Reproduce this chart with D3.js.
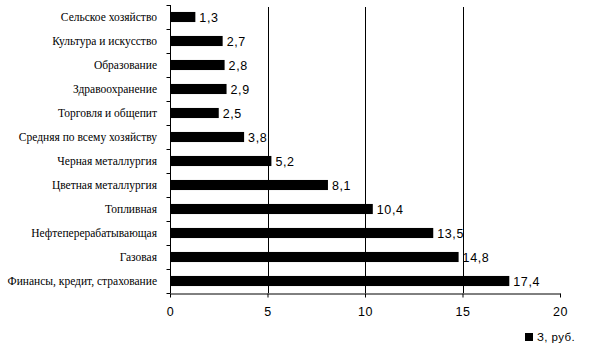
<!DOCTYPE html>
<html><head><meta charset="utf-8">
<script src="https://cdn.jsdelivr.net/npm/d3@7"></script>
<style>body{margin:0;background:#fff}</style>
</head><body>
<svg id="c" width="616" height="364"></svg>
<script>
const categories = ["Сельское хозяйство","Культура и искусство","Образование","Здравоохранение","Торговля и общепит","Средняя по всему хозяйству","Черная металлургия","Цветная металлургия","Топливная","Нефтеперерабатывающая","Газовая","Финансы, кредит, страхование"];
const values = [1.3,2.7,2.8,2.9,2.5,3.8,5.2,8.1,10.4,13.5,14.8,17.4];
const xTicks = [0,5,10,15,20];
const gridTicks = [5,10,15];
const seriesName = "З, руб.";

const svg = d3.select("#c");
const m = {left:170, right:56, top:5, bottom:71};
const W = 616, H = 364;
const x = d3.scaleLinear().domain([0,20]).range([m.left, W-m.right]);
const y = d3.scaleBand().domain(categories).range([m.top, H-m.bottom]).paddingInner(0.58).paddingOuter(0.29);
const fmt = v => String(v).replace(".", ",");

// gridlines
svg.append("g").selectAll("line").data(gridTicks).join("line")
  .attr("x1", d=>Math.round(x(d))+0.5).attr("x2", d=>Math.round(x(d))+0.5)
  .attr("y1", m.top+2).attr("y2", H-m.bottom)
  .attr("stroke","#000").attr("stroke-width",1);

// bars
svg.append("g").selectAll("rect").data(values).join("rect")
  .attr("x", x(0)).attr("y", (d,i)=>y(categories[i]))
  .attr("width", d=>x(d)-x(0)).attr("height", y.bandwidth())
  .attr("fill","#000");

// value labels
svg.append("g").selectAll("text").data(values).join("text")
  .attr("x", d=>x(d)+4).attr("y", (d,i)=>y(categories[i])+y.bandwidth()/2)
  .attr("dy","0.36em")
  .attr("font-family","Liberation Sans, Arial, sans-serif").attr("font-size",12.5)
  .attr("letter-spacing","0.6px")
  .text(d=>fmt(d));

// x axis
const xa = svg.append("g").attr("transform",`translate(0,${H-m.bottom+0.5})`)
  .call(d3.axisBottom(x).tickValues(xTicks).tickSize(4).tickSizeOuter(0).tickPadding(10));
xa.select(".domain").attr("stroke","#000");
xa.selectAll("text").attr("font-family","Liberation Sans, Arial, sans-serif").attr("font-size",12.5).attr("letter-spacing","0.6px").attr("fill","#000");

// y axis with ticks at band boundaries
const ya = svg.append("g").attr("transform",`translate(${m.left+0.5},0)`);
ya.append("line").attr("x1",0).attr("x2",0).attr("y1",m.top).attr("y2",H-m.bottom).attr("stroke","#000");
const step = y.step();
const bounds = d3.range(categories.length+1).map(i => m.top + i*(H-m.bottom-m.top)/categories.length);
ya.selectAll("line.t").data(bounds).join("line").attr("class","t")
  .attr("x1",-4).attr("x2",0).attr("y1",d=>Math.round(d)+0.5).attr("y2",d=>Math.round(d)+0.5).attr("stroke","#000");

// category labels
svg.append("g").selectAll("text").data(categories).join("text")
  .attr("x", 157).attr("y", d=>y(d)+y.bandwidth()/2).attr("dy","0.35em")
  .attr("text-anchor","end")
  .attr("font-family","Liberation Serif, Times New Roman, serif").attr("font-size",11.5)
  .text(d=>d);

// legend
const lg = svg.append("g").attr("transform","translate(525,333)");
lg.append("rect").attr("width",8).attr("height",8).attr("fill","#000");
lg.append("text").attr("x",12).attr("y",4).attr("dy","0.36em")
  .attr("font-family","Liberation Sans, Arial, sans-serif").attr("font-size",11.5).attr("letter-spacing","0.4px")
  .text(seriesName);
</script>
</body></html>
